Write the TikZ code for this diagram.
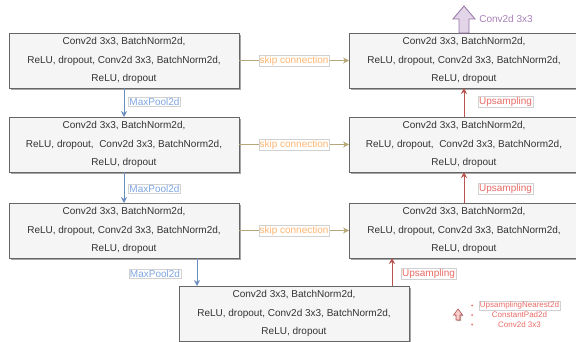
\documentclass[tikz,border=0pt]{standalone}
\usepackage{fontspec}
\setmainfont{Liberation Sans}
\usetikzlibrary{arrows.meta,shadows}
\definecolor{cf5f5f5}{RGB}{245,245,245}
\definecolor{c666666}{RGB}{102,102,102}
\definecolor{c333333}{RGB}{51,51,51}
\definecolor{c6c8ebf}{RGB}{108,142,191}
\definecolor{c7ea6e0}{RGB}{126,166,224}
\definecolor{cb85450}{RGB}{184,84,80}
\definecolor{cea6b66}{RGB}{234,107,102}
\definecolor{cd6b656}{RGB}{214,182,86}
\definecolor{cb5a77a}{RGB}{181,167,122}
\definecolor{cffb570}{RGB}{255,181,112}
\definecolor{c9673a6}{RGB}{150,115,166}
\definecolor{ce1d5e7}{RGB}{225,213,231}
\definecolor{ca680b8}{RGB}{166,128,184}
\definecolor{cf8cecc}{RGB}{248,206,204}

\begin{document}
\begin{tikzpicture}[y=1pt, x=1pt, yscale=-1, inner sep=0pt, outer sep=0pt,
  block/.style={draw=c666666, fill=cf5f5f5, line width=0.8pt,
    minimum width=230pt, minimum height=55pt, align=center, text=c333333,
    font=\fontsize{10}{18.5}\selectfont,
    drop shadow={shadow xshift=2pt, shadow yshift=-2pt, fill=black, opacity=0.35}},
  lbl/.style={fill=white, draw=black!18, line width=0.4pt, inner sep=0.8pt,
    font=\fontsize{10}{12}\selectfont},
  pool/.style={draw=c6c8ebf, line width=0.8pt, -{Stealth[length=6pt,width=6pt]}},
  upsm/.style={draw=cb85450, line width=0.8pt, -{Stealth[length=6pt,width=6pt]}},
  skip/.style={draw=cb5a77a, line width=0.8pt, -{Stealth[length=6pt,width=6pt,fill=cd6b656]}}]
\useasboundingbox (0,0) rectangle (576,342);

% encoder
\node[block] (enc1) at (124,60.5) {Conv2d 3x3, BatchNorm2d,\\ReLU, dropout, Conv2d 3x3, BatchNorm2d,\\ReLU, dropout};
\node[block] (enc2) at (124,144.5) {Conv2d 3x3, BatchNorm2d,\\ReLU, dropout,\ \ Conv2d 3x3, BatchNorm2d,\\ReLU, dropout};
\node[block] (enc3) at (124,230.5) {Conv2d 3x3, BatchNorm2d,\\ReLU, dropout, Conv2d 3x3, BatchNorm2d,\\ReLU, dropout};
% bottleneck
\node[block] (bott) at (294,313.5) {Conv2d 3x3, BatchNorm2d,\\ReLU, dropout, Conv2d 3x3, BatchNorm2d,\\ReLU, dropout};
% decoder
\node[block] (dec1) at (464,60.5) {Conv2d 3x3, BatchNorm2d,\\ReLU, dropout, Conv2d 3x3, BatchNorm2d,\\ReLU, dropout};
\node[block] (dec2) at (464,144.5) {Conv2d 3x3, BatchNorm2d,\\ReLU, dropout,\ \ Conv2d 3x3, BatchNorm2d,\\ReLU, dropout};
\node[block] (dec3) at (464,230.5) {Conv2d 3x3, BatchNorm2d,\\ReLU, dropout, Conv2d 3x3, BatchNorm2d,\\ReLU, dropout};

% down path
\draw[pool] (enc1.south) -- (enc2.north);
\draw[pool] (enc2.south) -- (enc3.north);
\draw[pool] ([xshift=73pt]enc3.south) -- ([xshift=73pt]enc3.south |- bott.north);
\node[lbl, text=c7ea6e0] (pool1) at (154.5,102) {MaxPool2d};
\node[lbl, text=c7ea6e0] (pool2) at (154.5,189) {MaxPool2d};
\node[lbl, text=c7ea6e0] (pool3) at (155,274) {MaxPool2d};

% up path
\draw[upsm] ([xshift=98pt]bott.north) -- ([xshift=98pt]bott.north |- dec3.south);
\draw[upsm] (dec3.north) -- (dec2.south);
\draw[upsm] (dec2.north) -- (dec1.south);
\node[lbl, text=cea6b66] (ups1) at (505.5,102) {Upsampling};
\node[lbl, text=cea6b66] (ups2) at (505.5,189) {Upsampling};
\node[lbl, text=cea6b66] (ups3) at (428.5,274) {Upsampling};

% skips
\foreach \i in {1,2,3} {
  \draw[skip] (enc\i.east) -- (enc\i.east -| dec\i.west)
    node[midway, lbl, text=cffb570] (skip\i) {skip connection};
}

% output
\path[draw=c9673a6, fill=ce1d5e7, line width=0.8pt] (459,33) -- (459,19) --
  (453,19) -- (464,6) -- (475,19) -- (469,19) -- (469,33) -- cycle;
\node[text=ca680b8, font=\fontsize{10}{12}\selectfont] (outlbl) at (506,19) {Conv2d 3x3};

% legend
\path[draw=cb85450, fill=cf8cecc, line width=0.6pt,
  drop shadow={shadow xshift=1pt, shadow yshift=-1pt, fill=black, opacity=0.3}]
  (456,320) -- (456,315) -- (453.5,315) -- (458,309) -- (462.5,315) --
  (460,315) -- (460,320) -- cycle;
\foreach \yy in {305.5,315,324.5}
  \fill[cea6b66] (472,\yy) circle (1pt);
\node[lbl, text=cea6b66, font=\fontsize{8}{9.5}\selectfont] (leg1) at (519.5,305.5) {UpsamplingNearest2d};
\node[text=cea6b66, font=\fontsize{8}{9.5}\selectfont] (leg2) at (519.5,315) {ConstantPad2d};
\node[text=cea6b66, font=\fontsize{8}{9.5}\selectfont] (leg3) at (519.5,324.5) {Conv2d 3x3};

\end{tikzpicture}
\end{document}
